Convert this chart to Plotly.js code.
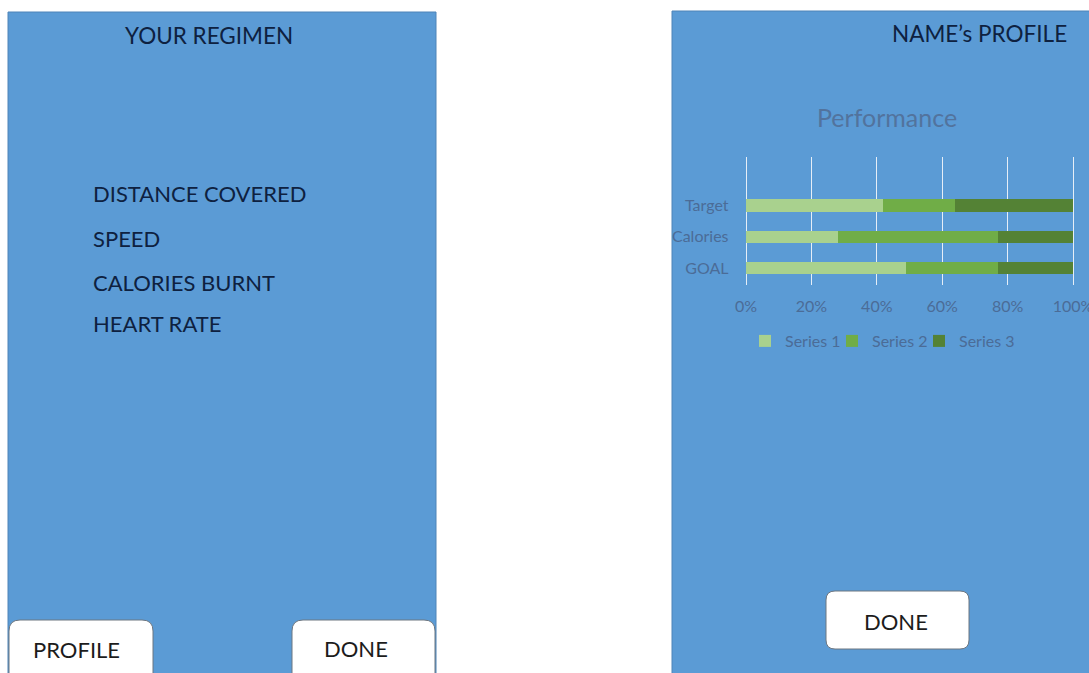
<!DOCTYPE html>
<html>
<head>
<meta charset="utf-8">
<script src="https://cdn.plot.ly/plotly-3.0.1.min.js"></script>
<style>
  html, body { margin: 0; padding: 0; background: #ffffff; }
  #app { width: 1089px; height: 673px; }
</style>
</head>
<body>
<div id="app"></div>
<script>
// Performance data: share of each series per category (100% stacked)
const categories = ['GOAL', 'Calories', 'Target'];
const series1 = [49, 28, 42];
const series2 = [28, 49, 22];
const series3 = [23, 23, 36];
const seriesNames = ['Series 1', 'Series 2', 'Series 3'];
const xTickValues = [0, 20, 40, 60, 80, 100];

// Screen texts
const regimenTitle = 'YOUR REGIMEN';
const regimenItems = ['DISTANCE COVERED', 'SPEED', 'CALORIES BURNT', 'HEART RATE'];
const profileTitle = 'NAME\u2019s PROFILE';
const chartTitle = 'Performance';
const buttonLabels = ['PROFILE', 'DONE', 'DONE'];

const W = 1089, H = 673;
const px = x => x / W;
const py = y => 1 - y / H;

const panelBlue = '#5b9bd5';
const panelEdge = '#4f84b8';
const navy = '#0e2140';
const axisText = '#4b6c97';
const seriesColors = ['#a9d18e', '#70ad47', '#548235'];
const FONT = 'Lato, sans-serif';

function roundedRect(x0, y0, x1, y1, r) {
  const X0 = px(x0), X1 = px(x1), Y0 = py(y0), Y1 = py(y1);
  const rx = r / W, ry = r / H;
  return 'M' + X0 + ',' + (Y1 + ry) +
    ' L' + X0 + ',' + (Y0 - ry) +
    ' Q' + X0 + ',' + Y0 + ' ' + (X0 + rx) + ',' + Y0 +
    ' L' + (X1 - rx) + ',' + Y0 +
    ' Q' + X1 + ',' + Y0 + ' ' + X1 + ',' + (Y0 - ry) +
    ' L' + X1 + ',' + (Y1 + ry) +
    ' Q' + X1 + ',' + Y1 + ' ' + (X1 - rx) + ',' + Y1 +
    ' L' + (X0 + rx) + ',' + Y1 +
    ' Q' + X0 + ',' + Y1 + ' ' + X0 + ',' + (Y1 + ry) + ' Z';
}

// one legend per series so each entry sits at its own spot
const legendIds = ['legend', 'legend2', 'legend3'];
const legendX = [745, 832, 919];

const seriesValues = [series1, series2, series3];
const traces = seriesValues.map((vals, i) => ({
  type: 'bar',
  orientation: 'h',
  name: seriesNames[i],
  legend: legendIds[i],
  y: categories,
  x: vals,
  marker: { color: seriesColors[i], line: { width: 0 } },
  hoverinfo: 'none'
}));

const shapes = [
  // phone screens
  { type: 'rect', xref: 'paper', yref: 'paper', layer: 'below',
    x0: px(8), x1: px(436), y0: py(690), y1: py(12),
    fillcolor: panelBlue, line: { color: panelEdge, width: 1 } },
  { type: 'rect', xref: 'paper', yref: 'paper', layer: 'below',
    x0: px(672), x1: px(1100), y0: py(690), y1: py(11),
    fillcolor: panelBlue, line: { color: panelEdge, width: 1 } },
  // buttons
  { type: 'path', xref: 'paper', yref: 'paper', layer: 'above',
    path: roundedRect(9, 620, 153, 700, 11), fillcolor: '#ffffff',
    line: { color: '#6d7680', width: 1 } },
  { type: 'path', xref: 'paper', yref: 'paper', layer: 'above',
    path: roundedRect(292, 620, 435, 700, 11), fillcolor: '#ffffff',
    line: { color: '#6d7680', width: 1 } },
  { type: 'path', xref: 'paper', yref: 'paper', layer: 'above',
    path: roundedRect(826, 591, 969, 649, 9), fillcolor: '#ffffff',
    line: { color: '#6d7680', width: 1 } }
];

const textAnn = (text, x, y, opts) => Object.assign({
  text: text, xref: 'paper', yref: 'paper', x: px(x), y: py(y),
  showarrow: false, xanchor: 'center', yanchor: 'middle',
  font: { family: FONT, size: 22.5, color: navy }
}, opts || {});

const buttonFont = { family: FONT, size: 22, color: '#1c1c1c' };
const regimenY = [193, 238, 282, 323];
const annotations = [
  textAnn(regimenTitle, 209, 35),
  textAnn(profileTitle, 979, 33),
  textAnn(chartTitle, 887, 117, { font: { family: FONT, size: 25, color: '#52739d' } }),
  textAnn(buttonLabels[0], 76, 649, { font: buttonFont }),
  textAnn(buttonLabels[1], 356, 648, { font: buttonFont }),
  textAnn(buttonLabels[2], 896, 621, { font: buttonFont })
].concat(regimenItems.map((t, i) => textAnn(t, 91, regimenY[i], { xanchor: 'left', font: { family: FONT, size: 22, color: navy } })));

const layout = {
  width: W, height: H,
  margin: { l: 0, r: 0, t: 0, b: 0 },
  paper_bgcolor: '#ffffff',
  plot_bgcolor: 'rgba(0,0,0,0)',
  font: { family: FONT, size: 16, color: axisText },
  barmode: 'stack',
  barnorm: 'percent',
  bargap: 0.6,
  showlegend: true,
  xaxis: {
    // 0..100 spans x = 746..1073 px; one extra unit each side keeps the end gridlines
    domain: [px(742.73), px(1076.27)],
    range: [-1, 101],
    tickvals: xTickValues,
    ticktext: xTickValues.map(v => v + '%'),
    showgrid: true, gridcolor: '#e6eef7', gridwidth: 1,
    zeroline: false, showline: false,
    ticks: 'outside', ticklen: 7, tickcolor: 'rgba(0,0,0,0)',
    ticklabeloverflow: 'allow',
    tickfont: { family: FONT, size: 16, color: axisText },
    fixedrange: true
  },
  yaxis: {
    domain: [py(285), py(157)],
    type: 'category',
    categoryorder: 'array', categoryarray: categories,
    range: [-0.544, 3.552],
    showgrid: false, zeroline: false, showline: false,
    ticks: 'outside', ticklen: 10, tickcolor: 'rgba(0,0,0,0)',
    tickfont: { family: FONT, size: 16, color: axisText },
    fixedrange: true
  },
  shapes: shapes,
  annotations: annotations
};

legendIds.forEach((id, i) => {
  layout[id] = {
    orientation: 'h',
    x: px(legendX[i]), xanchor: 'left', y: py(341), yanchor: 'middle',
    bgcolor: 'rgba(0,0,0,0)', itemwidth: 30,
    font: { family: FONT, size: 16, color: axisText }
  };
});

Plotly.newPlot('app', traces, layout, { staticPlot: true, displayModeBar: false });
</script>
</body>
</html>
